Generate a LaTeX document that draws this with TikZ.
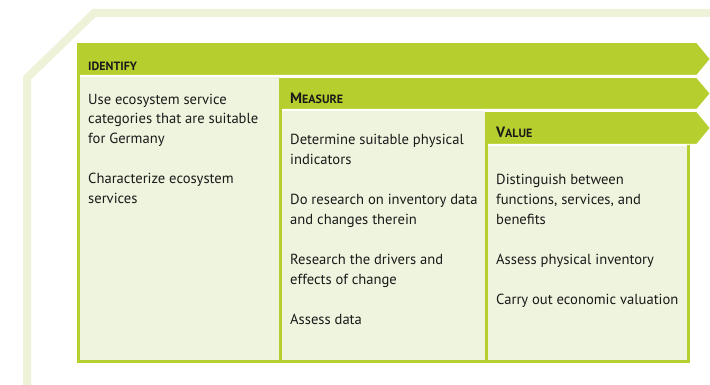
\documentclass[tikz,border=0pt]{standalone}
\usepackage{fontspec}
\setmainfont{PT Sans}
\usetikzlibrary{positioning}
\definecolor{bandgreen}{RGB}{183,207,46}
\definecolor{colfill}{RGB}{239,244,222}
\definecolor{framegreen}{RGB}{237,242,216}
\definecolor{textdark}{RGB}{26,26,26}

\newcommand{\hdsc}[2]{{\bfseries\fontsize{15}{17}\selectfont #1\fontsize{12}{14}\selectfont #2}}

\begin{document}
\begin{tikzpicture}[x=1pt, y=-1pt,
    frame/.style={draw=framegreen, line width=8pt},
    column/.style={fill=colfill, draw=none},
    colborder/.style={draw=bandgreen, line width=3pt},
    band/.style={fill=bandgreen, draw=white, line width=2pt},
    head/.style={anchor=base west, inner sep=0pt, text=textdark},
    item/.style={anchor=base west, inner sep=0pt, align=left, text=textdark,
                 font=\fontsize{14.6}{20}\selectfont}
]
\useasboundingbox (0,0) rectangle (710,385);

% outer frame
\draw[frame] (27,385) -- (27,78) -- (94,13) -- (710,13);

% column fills
\fill[column] (78.5,44) rectangle (280.5,361);
\fill[column] (280.5,78) rectangle (486.5,361);
\fill[column] (486.5,112) rectangle (688.5,361);

% arrow bands
\draw[band] (77,42) -- (697,42) -- (711,59) -- (697,76) -- (77,76) -- cycle;
\draw[band] (280,77) -- (697,77) -- (711,93.5) -- (697,110) -- (280,110) -- cycle;
\draw[band] (486,111) -- (697,111) -- (711,128) -- (697,145) -- (486,145) -- cycle;

% column borders
\draw[colborder] (78.5,43) -- (78.5,361) -- (280.5,361) -- (280.5,78);
\draw[colborder] (280.5,78) -- (280.5,361) -- (486.5,361) -- (486.5,112);
\draw[colborder] (486.5,112) -- (486.5,361) -- (688.5,361) -- (688.5,145);

% headers
\node[head] (identify) at (88,71) {\hdsc{}{IDENTIFY}};
\node[head] (measure) at (290,104) {\hdsc{M}{EASURE}};
\node[head] (value) at (496,138) {\hdsc{V}{ALUE}};

% column texts (placed at the baseline of their last line)
\node[item] (identify-text) at (88,204) {Use ecosystem service\\categories that are suitable\\for Germany\\[20pt]Characterize ecosystem\\services};
\node[item] (measure-text) at (290,324) {Determine suitable physical\\indicators\\[20pt]Do research on inventory data\\and changes therein\\[20pt]Research the drivers and\\effects of change\\[20pt]Assess data};
\node[item] (value-text) at (496,304) {Distinguish between\\functions, services, and\\benefits\\[20pt]Assess physical inventory\\[20pt]Carry out economic valuation};

\end{tikzpicture}
\end{document}
